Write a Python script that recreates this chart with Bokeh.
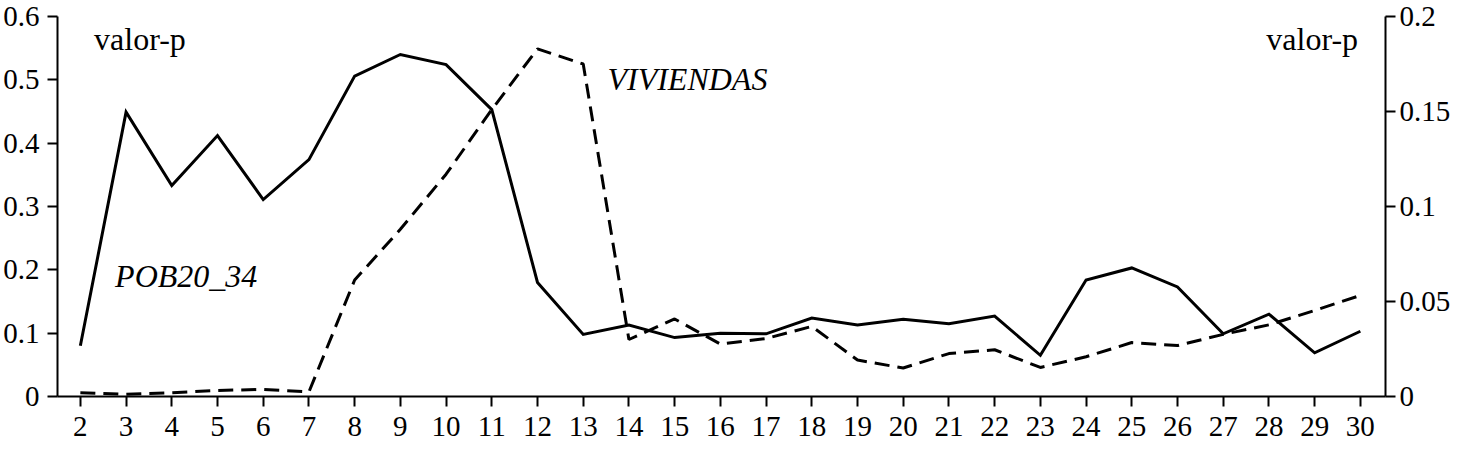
from bokeh.plotting import figure
from bokeh.models import Range1d, LinearAxis, FixedTicker, Label
from bokeh.embed import file_html
from bokeh.resources import INLINE

# ---- data ----
lags = list(range(2, 31))
pob20_34 = [0.080, 0.449, 0.333, 0.412, 0.311, 0.374, 0.506, 0.540, 0.524, 0.453,
            0.180, 0.098, 0.113, 0.093, 0.100, 0.099, 0.124, 0.113, 0.122, 0.115,
            0.127, 0.065, 0.184, 0.203, 0.173, 0.099, 0.130, 0.069, 0.103]
viviendas = [0.0020, 0.0012, 0.0020, 0.0032, 0.0037, 0.0024, 0.0613, 0.0880, 0.1170, 0.1510,
             0.1830, 0.1750, 0.0300, 0.0408, 0.0276, 0.0305, 0.0369, 0.0192, 0.0150, 0.0226,
             0.0246, 0.0153, 0.0209, 0.0284, 0.0268, 0.0327, 0.0377, 0.0453, 0.0532]
left_ticks = [0, 0.1, 0.2, 0.3, 0.4, 0.5, 0.6]
left_labels = ["0", "0.1", "0.2", "0.3", "0.4", "0.5", "0.6"]
right_ticks = [0, 0.05, 0.1, 0.15, 0.2]
right_labels = ["0", "0.05", "0.1", "0.15", "0.2"]
axis_title = "valor-p"
series_names = ["POB20_34", "VIVIENDAS"]

FONT = "Liberation Serif"
TICK_SIZE = "29px"

p = figure(width=1453, height=442, output_backend="svg", toolbar_location=None,
           x_range=Range1d(1.5, 30.55), y_range=Range1d(0, 0.6),
           min_border_left=8, min_border_right=8, min_border_top=16, min_border_bottom=46)
p.extra_y_ranges = {"right": Range1d(0, 0.2)}
p.outline_line_color = None
p.xgrid.visible = False
p.ygrid.visible = False
p.background_fill_color = "white"
p.border_fill_color = "white"

def style_axis(ax):
    ax.axis_line_color = "black"
    ax.axis_line_width = 2
    ax.major_tick_line_color = "black"
    ax.major_tick_line_width = 2
    ax.major_tick_out = 10
    ax.major_tick_in = 0
    ax.minor_tick_line_color = None
    ax.major_label_text_font = FONT
    ax.major_label_text_font_size = TICK_SIZE
    ax.major_label_text_color = "black"
    ax.major_label_standoff = 8

xa = p.xaxis[0]
style_axis(xa)
xa.ticker = FixedTicker(ticks=lags)
xa.major_label_standoff = 10

ya = p.yaxis[0]
style_axis(ya)
ya.ticker = FixedTicker(ticks=left_ticks)
ya.major_label_overrides = {t: l for t, l in zip(left_ticks, left_labels)}

ra = LinearAxis(y_range_name="right")
style_axis(ra)
ra.major_label_standoff = 4
ra.ticker = FixedTicker(ticks=right_ticks)
ra.major_label_overrides = {t: l for t, l in zip(right_ticks, right_labels)}
p.add_layout(ra, "right")

p.line(lags, pob20_34, line_color="black", line_width=3, line_join="miter")
p.line(lags, viviendas, line_color="black", line_width=3, line_dash="15 8",
       y_range_name="right")

def add_label(x, y, text, style="normal", align="left", rng="default"):
    p.add_layout(Label(x=x, y=y, text=text, text_font=FONT, text_font_size="32px",
                       text_font_style=style, text_align=align,
                       text_baseline="alphabetic", text_color="black",
                       y_range_name=rng))

add_label(2.3, 0.565, axis_title)
add_label(29.95, 0.565, axis_title, align="right")
add_label(2.76, 0.191, series_names[0], style="italic")
add_label(13.53, 0.5015, series_names[1], style="italic")

open("out.html", "w").write(file_html(p, INLINE))
